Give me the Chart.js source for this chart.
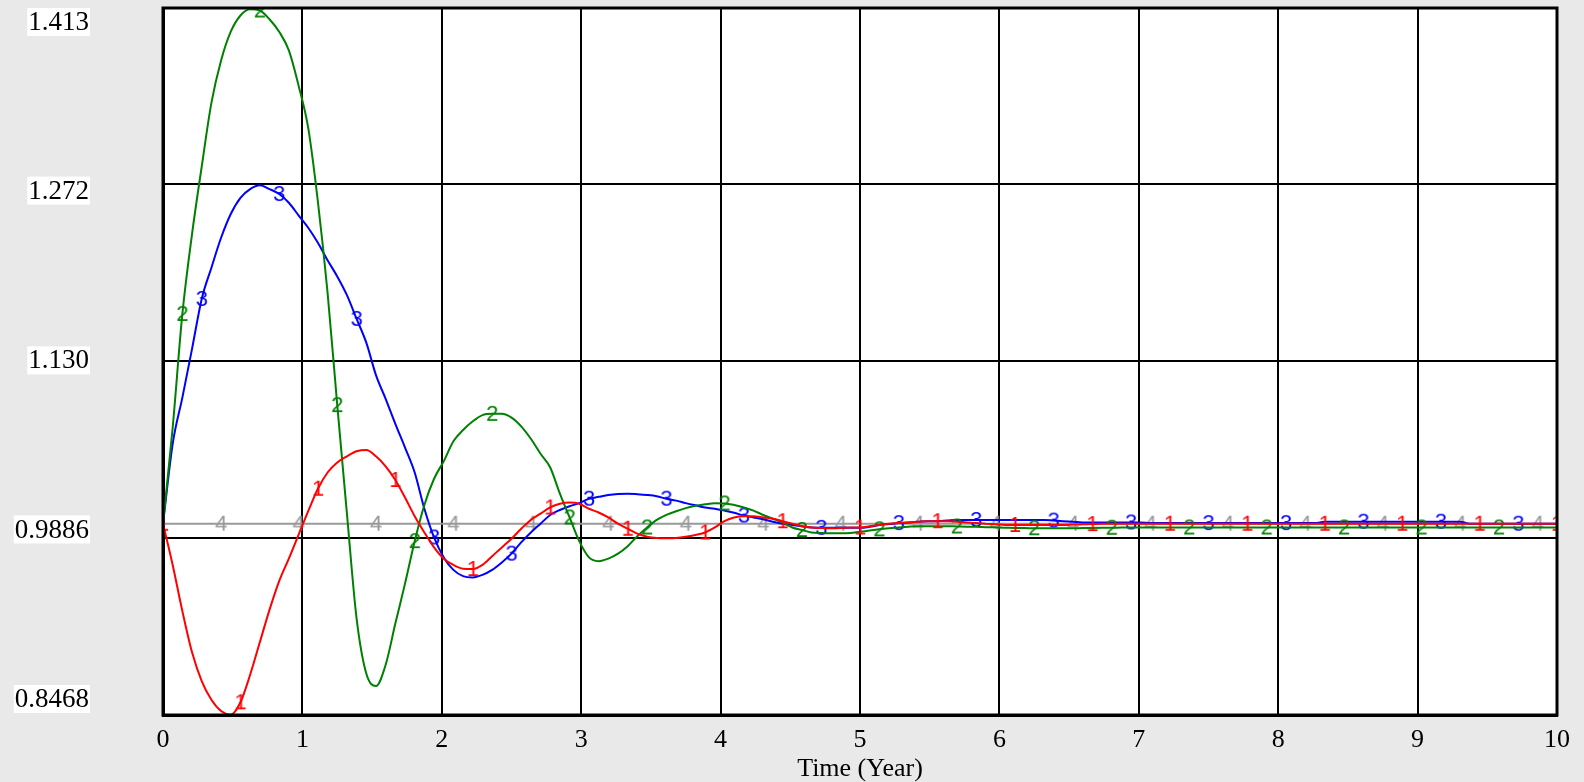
<!DOCTYPE html>
<html>
<head>
<meta charset="utf-8">
<title>Time (Year)</title>
<script src="https://cdn.jsdelivr.net/npm/chart.js@4.4.1/dist/chart.umd.min.js"></script>
<style>
  html, body { margin: 0; padding: 0; background: #e9e9e9; }
  canvas { display: block; }
</style>
</head>
<body>
<canvas id="grafico" width="1584" height="782"></canvas>
<script>
// passo de simulação: 10 anos em 144 passos
const tempo = []
for (let i = 0; i <= 144; i++) tempo.push(i * 10 / 144)

// marcas do eixo y (como o Vensim mostra)
const yTicks = [0.8468, 0.9886, 1.130, 1.272, 1.413]
const yRotulos = ['0.8468', '0.9886', '1.130', '1.272', '1.413']
const xTicks = [0, 1, 2, 3, 4, 5, 6, 7, 8, 9, 10]

// linha 1 (vermelha)
const serie1 = [
  1.000, 0.967, 0.930, 0.897, 0.874, 0.859, 0.850, 0.847,
  0.857, 0.879, 0.905, 0.931, 0.954, 0.972, 0.991, 1.010,
  1.028, 1.041, 1.049, 1.054, 1.058, 1.059, 1.054, 1.046,
  1.035, 1.021, 1.006, 0.993, 0.981, 0.972, 0.967, 0.964,
  0.9637, 0.967, 0.974, 0.981, 0.988, 0.996, 1.003, 1.008,
  1.013, 1.016, 1.017, 1.016, 1.012, 1.009, 1.005, 1.000,
  0.996, 0.992, 0.9896, 0.9885, 0.9883, 0.9885, 0.9895, 0.991,
  0.993, 0.997, 1.002, 1.005, 1.006, 1.006, 1.005, 1.004,
  1.002, 1.000, 0.998, 0.997, 0.9965, 0.9963, 0.9965, 0.997,
  0.997, 0.998, 0.999, 1.000, 1.0005, 1.001, 1.0015, 1.002,
  1.002, 1.002, 1.0016, 1.001, 1.0005, 1.000, 0.9995, 0.999,
  0.999, 0.999, 0.999, 0.999, 0.999, 0.999, 0.9993, 0.9995,
  0.9997, 1, 1, 1, 1, 1, 1, 1,
  1, 1, 1, 1, 1, 1, 1, 1,
  1, 1, 1, 1, 1, 1, 1, 1,
  1, 1, 1, 1, 1, 1, 1, 1,
  1, 1, 1, 1, 1, 1, 1, 1,
  1, 1, 1, 1, 1, 1, 1, 1,
  1
]

// linha 2 (verde)
const serie2 = [
  1.000, 1.077, 1.168, 1.232, 1.286, 1.337, 1.371, 1.394,
  1.407, 1.412, 1.411, 1.404, 1.394, 1.379, 1.351, 1.317,
  1.258, 1.185, 1.095, 1.008, 0.924, 0.880, 0.870, 0.887,
  0.920, 0.952, 0.986, 1.015, 1.036, 1.050, 1.066, 1.075,
  1.082, 1.087, 1.088, 1.088, 1.085, 1.078, 1.068, 1.056,
  1.045, 1.024, 1.005, 0.986, 0.973, 0.970, 0.972, 0.976,
  0.982, 0.990, 0.997, 1.003, 1.007, 1.010, 1.0125, 1.0144,
  1.0155, 1.0163, 1.0162, 1.015, 1.013, 1.0105, 1.007, 1.004,
  1.001, 0.997, 0.995, 0.993, 0.9926, 0.9924, 0.9924, 0.9926,
  0.9936, 0.9945, 0.9955, 0.9963, 0.997, 0.9976, 0.998, 0.998,
  0.998, 0.998, 0.9978, 0.9976, 0.9975, 0.9972, 0.997, 0.9968,
  0.9966, 0.9965, 0.9964, 0.9963, 0.9963, 0.9963, 0.9964, 0.9965,
  0.9966, 0.9967, 0.9968, 0.9969, 0.997, 0.997, 0.997, 0.997,
  0.997, 0.997, 0.997, 0.997, 0.997, 0.997, 0.997, 0.997,
  0.997, 0.997, 0.997, 0.997, 0.997, 0.997, 0.997, 0.997,
  0.997, 0.997, 0.997, 0.997, 0.997, 0.997, 0.997, 0.997,
  0.997, 0.997, 0.997, 0.997, 0.997, 0.997, 0.997, 0.997,
  0.997, 0.997, 0.997, 0.997, 0.997, 0.997, 0.997, 0.997,
  0.997
]

// linha 3 (azul)
const serie3 = [
  1.000, 1.064, 1.101, 1.140, 1.180, 1.205, 1.229, 1.248,
  1.261, 1.268, 1.271, 1.268, 1.264, 1.257, 1.247, 1.237,
  1.225, 1.211, 1.198, 1.183, 1.164, 1.145, 1.119, 1.100,
  1.080, 1.061, 1.041, 1.012, 0.989, 0.973, 0.963, 0.958,
  0.957, 0.959, 0.963, 0.969, 0.976, 0.985, 0.993, 1.000,
  1.007, 1.011, 1.014, 1.0165, 1.020, 1.0215, 1.023, 1.0238,
  1.024, 1.0236, 1.023, 1.022, 1.020, 1.0185, 1.0165, 1.0147,
  1.013, 1.012, 1.0105, 1.0088, 1.0065, 1.005, 1.0035, 1.0015,
  1.000, 0.999, 0.998, 0.997, 0.9967, 0.9967, 0.9967, 0.9967,
  0.9967, 0.9975, 0.999, 0.9997, 1.0005, 1.001, 1.0015, 1.002,
  1.002, 1.0025, 1.003, 1.003, 1.003, 1.003, 1.003, 1.003,
  1.003, 1.003, 1.003, 1.003, 1.0025, 1.002, 1.0015, 1.001,
  1.001, 1.001, 1.001, 1.001, 1.001, 1.001, 1.0005, 1.0005,
  1.0005, 1.0005, 1.0005, 1.0005, 1.0005, 1.0005, 1.0005, 1.0005,
  1.0005, 1.0005, 1.0005, 1.0005, 1.0005, 1.0005, 1.0005, 1.0005,
  1.0016, 1.0016, 1.0016, 1.0016, 1.0016, 1.0016, 1.0016, 1.0016,
  1.0016, 1.0016, 1.0016, 1.0016, 1.0016, 1.0016, 1.0016, 1.000,
  1.000, 1.000, 1.000, 1.000, 1.000, 1.000, 1.000, 1.000,
  1.000
]

// linha 4 (cinza, constante)
const serie4 = [
  1, 1, 1, 1, 1, 1, 1, 1, 1, 1, 1, 1, 1, 1, 1, 1,
  1, 1, 1, 1, 1, 1, 1, 1, 1, 1, 1, 1, 1, 1, 1, 1,
  1, 1, 1, 1, 1, 1, 1, 1, 1, 1, 1, 1, 1, 1, 1, 1,
  1, 1, 1, 1, 1, 1, 1, 1, 1, 1, 1, 1, 1, 1, 1, 1,
  1, 1, 1, 1, 1, 1, 1, 1, 1, 1, 1, 1, 1, 1, 1, 1,
  1, 1, 1, 1, 1, 1, 1, 1, 1, 1, 1, 1, 1, 1, 1, 1,
  1, 1, 1, 1, 1, 1, 1, 1, 1, 1, 1, 1, 1, 1, 1, 1,
  1, 1, 1, 1, 1, 1, 1, 1, 1, 1, 1, 1, 1, 1, 1, 1,
  1, 1, 1, 1, 1, 1, 1, 1, 1, 1, 1, 1, 1, 1, 1, 1,
  1
]

const fonteSerif = '"Liberation Serif", "Times New Roman", serif'

// número desenhado em cima da linha, como no Vensim
function criarRotulo(texto, cor) {
  const c = document.createElement('canvas')
  c.width = 22
  c.height = 28
  const g = c.getContext('2d')
  g.font = '22px "Liberation Sans", Arial, sans-serif'
  g.fillStyle = cor
  g.textAlign = 'center'
  g.textBaseline = 'middle'
  g.fillText(texto, 11, 15)
  return c
}

function criarSerie(dados, numero, cor) {
  const offset = 2 * (numero - 1)
  return {
    data: dados,
    borderColor: cor,
    borderWidth: 2,
    cubicInterpolationMode: 'monotone',
    pointStyle: criarRotulo(String(numero), cor),
    pointRadius: function(ctx) { return ctx.dataIndex % 8 === offset ? 6 : 0 },
    pointHoverRadius: 0,
    fill: false
  }
}

const fundoBranco = {
  id: 'fundoBranco',
  beforeDraw(chart) {
    const { ctx, chartArea } = chart
    ctx.save()
    ctx.fillStyle = '#ffffff'
    ctx.fillRect(chartArea.left, chartArea.top, chartArea.right - chartArea.left, chartArea.bottom - chartArea.top)
    ctx.restore()
  },
  afterDraw(chart) {
    const { ctx, chartArea } = chart
    ctx.save()
    ctx.strokeStyle = '#000000'
    ctx.lineWidth = 3
    ctx.strokeRect(chartArea.left, chartArea.top, chartArea.right - chartArea.left, chartArea.bottom - chartArea.top)
    ctx.restore()
  }
}

// rótulos do eixo y com caixa branca, espalhados entre o topo e a base
const rotulosEixoY = {
  id: 'rotulosEixoY',
  afterDraw(chart) {
    const { ctx, chartArea } = chart
    const escala = chart.scales.y
    const altura = chartArea.bottom - chartArea.top
    ctx.save()
    ctx.font = '27px ' + fonteSerif
    ctx.textAlign = 'right'
    ctx.textBaseline = 'middle'
    yTicks.forEach(function(valor, i) {
      const py = escala.getPixelForValue(valor)
      const frac = (py - chartArea.top) / altura
      const centro = chartArea.top + 14 + frac * (altura - 30)
      const texto = yRotulos[i]
      const largura = ctx.measureText(texto).width
      ctx.fillStyle = '#ffffff'
      ctx.fillRect(90 - largura - 2, centro - 14, largura + 2, 28)
      ctx.fillStyle = '#000000'
      ctx.fillText(texto, 89, centro + 1)
    })
    ctx.restore()
  }
}

new Chart(document.getElementById('grafico'), {
  type: 'line',
  data: {
    labels: tempo,
    datasets: [
      criarSerie(serie1, 1, '#ff0000'),
      criarSerie(serie2, 2, '#008000'),
      criarSerie(serie3, 3, '#0000ff'),
      criarSerie(serie4, 4, '#999999')
    ]
  },
  options: {
    responsive: false,
    animation: false,
    devicePixelRatio: 1,
    layout: { padding: { top: 8, right: 27, left: 0, bottom: 0 } },
    plugins: {
      legend: { display: false },
      tooltip: { enabled: false }
    },
    scales: {
      x: {
        type: 'linear',
        min: 0,
        max: 10,
        afterFit: function(scale) { scale.height = 67 },
        afterBuildTicks: function(scale) {
          scale.ticks = xTicks.map(function(v) { return { value: v } })
        },
        grid: { color: '#000000', lineWidth: 2, drawTicks: false },
        border: { display: true, color: '#000000', width: 3 },
        ticks: {
          padding: 10,
          maxRotation: 0,
          autoSkip: false,
          color: '#000000',
          font: { family: fonteSerif, size: 26 },
          callback: function(value) { return String(value) }
        },
        title: {
          display: true,
          text: 'Time (Year)',
          color: '#000000',
          padding: { top: 0, bottom: 0 },
          font: { family: fonteSerif, size: 26, lineHeight: 1.0 }
        }
      },
      y: {
        min: yTicks[0],
        max: yTicks[yTicks.length - 1],
        afterFit: function(scale) { scale.width = 163 },
        afterBuildTicks: function(scale) {
          scale.ticks = yTicks.map(function(v) { return { value: v } })
        },
        grid: { color: '#000000', lineWidth: 2, drawTicks: false },
        border: { display: true, color: '#000000', width: 3 },
        ticks: { display: false }
      }
    }
  },
  plugins: [fundoBranco, rotulosEixoY]
})
</script>
</body>
</html>
